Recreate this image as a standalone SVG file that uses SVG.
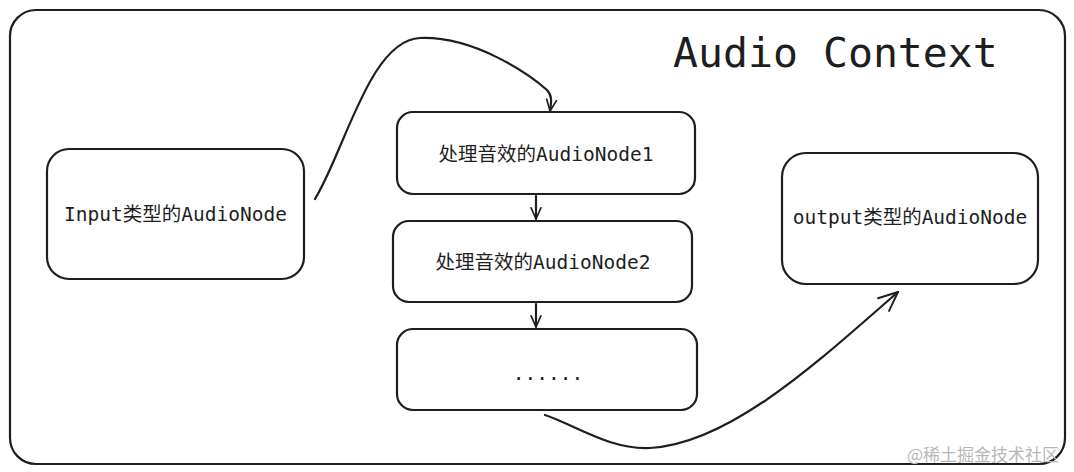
<svg xmlns="http://www.w3.org/2000/svg" width="1074" height="472" viewBox="0 0 1074 472">
<defs>
<style>
.box{fill:#ffffff;stroke:#1e1e1e;stroke-width:2.2;}
.frame{fill:none;stroke:#1e1e1e;stroke-width:2.2;}
.lbl{font-family:"DejaVu Sans Mono","Liberation Mono","Noto Sans CJK SC",monospace;font-size:19.5px;fill:#1e1e1e;text-anchor:middle;}
.title{font-family:"DejaVu Sans Mono","Liberation Mono",monospace;font-size:41.5px;fill:#1e1e1e;}
.conn{fill:none;stroke:#1e1e1e;stroke-width:2.2;stroke-linecap:round;}
.wm{font-family:"Noto Sans CJK SC",sans-serif;font-size:17px;fill:#b8b8b8;}
</style>
<marker id="ah" viewBox="0 0 20 20" refX="18" refY="10" markerWidth="14" markerHeight="14" markerUnits="userSpaceOnUse" orient="auto">
<path d="M2,3 L18,10 L2,17" fill="none" stroke="#1e1e1e" stroke-width="2.4" stroke-linecap="round" stroke-linejoin="round"/>
</marker>
<marker id="ah2" viewBox="0 0 20 20" refX="18" refY="10" markerWidth="24" markerHeight="24" markerUnits="userSpaceOnUse" orient="auto">
<path d="M2,3 L18,10 L2,17" fill="none" stroke="#1e1e1e" stroke-width="1.6" stroke-linecap="round" stroke-linejoin="round"/>
</marker>
</defs>
<rect class="frame" x="10" y="10" width="1055" height="454" rx="26"/>
<text class="title" x="673" y="67">Audio Context</text>
<g id="input-node">
<rect class="box" x="47" y="149" width="257" height="130" rx="22"/>
<text class="lbl" x="175.5" y="221">Input类型的AudioNode</text>
</g>
<g id="node1">
<rect class="box" x="397" y="112" width="298" height="82" rx="16"/>
<text class="lbl" x="546" y="161">处理音效的AudioNode1</text>
</g>
<g id="node2">
<rect class="box" x="393" y="221" width="299" height="81" rx="16"/>
<text class="lbl" x="543" y="269">处理音效的AudioNode2</text>
</g>
<g id="node3">
<rect class="box" x="397" y="329" width="300" height="81" rx="16"/>
<text class="lbl" x="548" y="380">......</text>
</g>
<g id="output-node">
<rect class="box" x="782" y="153" width="256" height="131" rx="24"/>
<text class="lbl" x="910" y="224">output类型的AudioNode</text>
</g>
<g id="connectors">
<path class="conn" marker-end="url(#ah)" d="M315,199 C345,150 370,40 420,38 C475,36 530,75 547,90 C553,96 551,104 550,111"/>
<path class="conn" marker-end="url(#ah)" d="M536,196 L536,219"/>
<path class="conn" marker-end="url(#ah)" d="M536,304 L536,327"/>
<path class="conn" marker-end="url(#ah2)" d="M545,415 C575,425 610,450 650,448 C730,444 820,360 898,292"/>
</g>
<text class="wm" x="907" y="461">@稀土掘金技术社区</text>
</svg>
